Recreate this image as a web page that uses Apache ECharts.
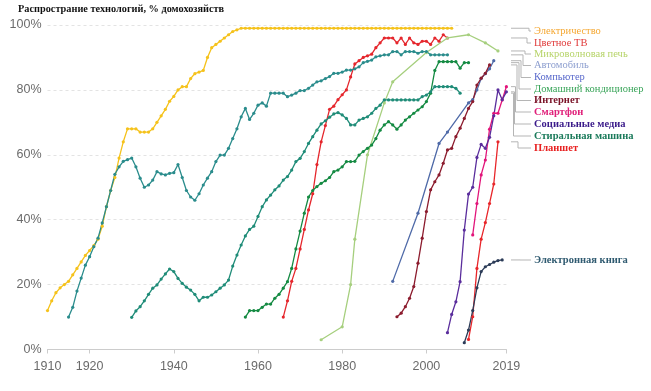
<!DOCTYPE html>
<html><head><meta charset="utf-8">
<script src="https://cdn.jsdelivr.net/npm/echarts@6/dist/echarts.min.js"></script>
<style>html,body{margin:0;padding:0;background:#fff}#c{width:651px;height:391px}</style>
</head><body><div id="c"></div>
<script>
const xTicks = [1910, 1920, 1940, 1960, 1980, 2000, 2019];
const yTicks = [0, 20, 40, 60, 80, 100];

const electricity = [[1910,12],[1911,15],[1912,17.5],[1913,19],[1914,20],[1915,21],[1916,23],[1917,25],[1918,27],[1919,29],[1920,30.5],[1921,32],[1922,34],[1923,38],[1924,44],[1925,49],[1926,53],[1927,59],[1928,64],[1929,68],[1930,68],[1931,68],[1932,67],[1933,67],[1934,67],[1935,68],[1936,70],[1937,72],[1938,74],[1939,76.5],[1940,78],[1941,80],[1942,81],[1943,81],[1944,83.5],[1945,85],[1946,85.5],[1947,86],[1948,90],[1949,93],[1950,94],[1951,95],[1952,96],[1953,97],[1954,98],[1955,98.5],[1956,99],[1957,99],[1958,99],[1959,99],[1960,99],[1961,99],[1962,99],[1963,99],[1964,99],[1965,99],[1966,99],[1967,99],[1968,99],[1969,99],[1970,99],[1971,99],[1972,99],[1973,99],[1974,99],[1975,99],[1976,99],[1977,99],[1978,99],[1979,99],[1980,99],[1981,99],[1982,99],[1983,99],[1984,99],[1985,99],[1986,99],[1987,99],[1988,99],[1989,99],[1990,99],[1991,99],[1992,99],[1993,99],[1994,99],[1995,99],[1996,99],[1997,99],[1998,99],[1999,99],[2000,99],[2001,99],[2002,99],[2003,99],[2004,99],[2005,99],[2006,99]];
const colorTv = [[1966,10],[1967,15],[1968,21],[1969,25],[1970,31],[1971,37],[1972,43],[1973,48],[1974,57],[1975,64],[1976,69],[1977,74],[1978,75],[1979,77],[1980,78.5],[1981,80],[1982,84],[1983,88],[1984,89],[1985,90],[1986,90.5],[1987,91],[1988,93],[1989,94.5],[1990,96],[1991,96],[1992,96],[1993,94.5],[1994,96],[1995,94],[1996,96],[1997,94.5],[1998,94],[1999,95],[2000,95],[2001,94],[2002,96],[2003,95],[2004,97],[2005,96]];
const microwave = [[1975,3],[1980,7],[1982,20],[1983,34],[1986,60],[1990,76],[1992,82.5],[2000,91.5],[2005,96],[2010,97],[2014,94.5],[2017,92]];
const car = [[1915,10],[1916,13],[1917,18],[1918,22],[1919,26],[1920,28.6],[1921,31.7],[1922,34.3],[1923,39],[1924,44],[1925,49],[1926,54],[1927,56.3],[1928,58],[1929,58.5],[1930,59],[1931,56.3],[1932,52.8],[1933,50],[1934,50.7],[1935,52.2],[1936,54.8],[1937,54.1],[1938,53.8],[1939,54.3],[1940,54.5],[1941,57],[1942,53],[1943,49],[1944,47],[1945,46],[1946,48],[1947,50.7],[1948,52.8],[1949,54.8],[1950,57.9],[1951,59.9],[1952,59.9],[1953,62],[1954,65],[1955,68],[1956,71.7],[1957,74.3],[1958,70.9],[1959,72.8],[1960,75.3],[1961,76],[1962,75],[1963,79],[1964,79],[1965,79],[1966,79],[1967,77.9],[1968,78.4],[1969,79],[1970,79.8],[1971,79.8],[1972,80.5],[1973,81.5],[1974,82.5],[1975,82.8],[1976,83.5],[1977,84.1],[1978,85.1],[1979,85.1],[1980,85.5],[1981,86.1],[1982,86.1],[1983,86.5],[1984,87.1],[1985,88.4],[1986,88.8],[1987,89.2],[1988,90.2],[1989,90.5],[1990,90.8],[1991,90.8],[1992,91.8],[1993,91.8],[1994,90.8],[1995,91.8],[1996,91.8],[1997,91.8],[1998,91.3],[1999,91.8],[2000,91.8],[2001,90.8],[2002,90.8],[2003,90.8],[2004,90.8],[2005,90.8]];
const computer = [[1992,21],[1998,42],[2003,63.5],[2005,67],[2010,76],[2011,77],[2012,80],[2013,83.5],[2014,85],[2015,86.5],[2016,89]];
const airCond = [[1957,10],[1958,12],[1959,12],[1960,12],[1961,13],[1962,14],[1963,14],[1964,15.8],[1965,17],[1966,18.9],[1967,20.9],[1968,25],[1969,31],[1970,36.5],[1971,42],[1972,47],[1973,49],[1974,50.2],[1975,51.2],[1976,52],[1977,53],[1978,54.8],[1979,55.3],[1980,56.3],[1981,57.9],[1982,57.9],[1983,58],[1984,59.9],[1985,61],[1986,62],[1987,63],[1988,65],[1989,67.6],[1990,69.2],[1991,70.2],[1992,69.2],[1993,67.9],[1994,69.2],[1995,70.7],[1996,71.7],[1997,72.8],[1998,73.8],[1999,74.8],[2000,76.4],[2001,79],[2002,86],[2003,88.7],[2004,88.7],[2005,88.7],[2006,88.7],[2007,88.7],[2008,86.7],[2009,88.4],[2010,88.4]];
const internet = [[1993,10.1],[1994,11.2],[1995,13.2],[1996,15.8],[1997,19.4],[1998,26.6],[1999,34.3],[2000,42.5],[2001,49.2],[2002,51.7],[2003,53.8],[2004,57.4],[2005,61.5],[2006,62],[2007,65.6],[2008,68.2],[2009,71.2],[2010,74.3],[2011,76.4],[2012,81.5],[2013,83.6],[2014,85.1],[2015,87.7]];
const smartphone = [[2011,35.3],[2012,45],[2013,53.8],[2014,58.4],[2015,67.9],[2016,72.8],[2017,72.8],[2018,76.9],[2019,81]];
const socialMedia = [[2005,5.2],[2006,10.8],[2007,14.7],[2008,20.9],[2009,36.8],[2010,47.9],[2011,50],[2012,59.2],[2013,63.2],[2014,62],[2015,65.4],[2016,72],[2017,80],[2018,77],[2019,79.4]];
const washer = [[1930,9.9],[1931,11.9],[1932,13.2],[1933,15],[1934,17],[1935,18.9],[1936,19.9],[1937,21.7],[1938,23.3],[1939,24.8],[1940,24],[1941,21.9],[1942,20.4],[1943,19.2],[1944,18.3],[1945,17],[1946,15],[1947,16.1],[1948,16.1],[1949,16.8],[1950,17.8],[1951,18.9],[1952,19.9],[1953,21.4],[1954,25.7],[1955,29.1],[1956,32.2],[1957,35],[1958,37],[1959,38],[1960,41],[1961,44],[1962,46.1],[1963,47.6],[1964,49.2],[1965,50.4],[1966,52.2],[1967,53.3],[1968,55.3],[1969,57.9],[1970,58.9],[1971,61],[1972,63.5],[1973,65.6],[1974,67.6],[1975,69.5],[1976,70.5],[1977,71.6],[1978,72.6],[1979,73],[1980,72.3],[1981,71.2],[1982,69.2],[1983,69.2],[1984,70.7],[1985,71.2],[1986,71.7],[1987,72.8],[1988,74.3],[1989,75.3],[1990,76.9],[1991,76.9],[1992,76.9],[1993,76.9],[1994,76.9],[1995,76.9],[1996,76.9],[1997,76.9],[1998,76.9],[1999,77.9],[2000,78.4],[2001,79.4],[2002,81],[2003,81],[2004,81],[2005,81],[2006,81],[2007,80.5],[2008,79]];
const tablet = [[2010,3.1],[2011,10.1],[2012,25],[2013,34],[2014,39.1],[2015,45],[2016,51],[2017,64]];
const ebook = [[2009,2.1],[2010,6],[2011,12],[2012,19],[2013,24],[2014,25.5],[2015,26.2],[2016,26.9],[2017,27.4],[2018,27.6]];

const seriesNames = ['Электричество','Цветное ТВ','Микроволновая печь','Автомобиль','Компьютер','Домашний кондиционер','Интернет','Смартфон','Социальные медиа','Стиральная машина','Планшет','Электронная книга'];
const seriesData = [electricity, colorTv, microwave, car, computer, airCond, internet, smartphone, socialMedia, washer, tablet, ebook];
const lineColors = ['#f5c21b','#e5262c','#a6cf7e','#2a8c8c','#4f6aa8','#148a42','#8c1c2e','#e2157a','#5a2d9c','#1f8c78','#e8262a','#2c3c58'];
const labelColors = ['#f5a833','#e03a3a','#b7d46a','#8fa0d0','#5a6acc','#3aa55a','#7a1428','#e0207a','#3a1a8a','#1a7a5a','#e82020','#2f5a70'];
const labelBold = [false,false,false,false,false,false,true,true,true,true,true,true];
const labelY = [31, 43, 54, 65.5, 77.5, 89, 100.5, 112, 124, 136, 148, 260];
const leaderX = [529, 527, 525, 523, 521, 519, 517, 515.5, 514.5, 513.5, 518, 520];

const chart = echarts.init(document.getElementById('c'), null, {renderer: 'canvas'});
const option = {
  animation: false,
  grid: {left: 47.5, right: 144.6, top: 25, bottom: 41.5},
  title: {text: 'Распространие технологий, % домохозяйств', left: 13, top: -1,
    textStyle: {fontFamily: 'Liberation Serif', fontWeight: 'bold', fontSize: 10.3, color: '#111'}},
  xAxis: {type: 'value', min: 1910, max: 2019,
    axisLine: {lineStyle: {color: '#cccccc'}},
    axisTick: {show: true, customValues: xTicks, length: 4, lineStyle: {color: '#cccccc'}},
    axisLabel: {customValues: xTicks, formatter: v => String(v), color: '#6b6b6b', fontSize: 12.5, margin: 11, fontFamily: 'Liberation Sans'},
    splitLine: {show: false}},
  yAxis: {type: 'value', min: 0, max: 100, interval: 20,
    axisLine: {show: false}, axisTick: {show: false},
    axisLabel: {formatter: '{value}%', color: '#6b6b6b', fontSize: 12.5, margin: 6, fontFamily: 'Liberation Sans'},
    splitLine: {lineStyle: {color: '#e3e3e3', type: [3, 3], width: 1}}},
  series: seriesData.map((d, i) => ({
    name: seriesNames[i], type: 'line', data: d,
    symbol: 'circle', symbolSize: 3.2, showSymbol: true,
    lineStyle: {color: lineColors[i], width: 1.3},
    itemStyle: {color: lineColors[i]},
    z: 2
  }))
};
chart.setOption(option);

const graphics = [];
seriesData.forEach((d, i) => {
  const last = d[d.length - 1];
  const p = chart.convertToPixel({gridIndex: 0}, last);
  const ye = p[1], yl = labelY[i], xv = leaderX[i];
  graphics.push({type: 'polyline', silent: true,
    shape: {points: [[511, ye], [xv, ye], [xv, yl], [531, yl]]},
    style: {stroke: '#b5b5b5', lineWidth: 1, fill: null}});
  graphics.push({type: 'text', x: 534, y: yl, silent: true,
    style: {text: seriesNames[i], fill: labelColors[i], fontFamily: 'Liberation Serif',
      fontSize: 10.5, fontWeight: labelBold[i] ? 'bold' : 'normal', verticalAlign: 'middle', align: 'left'}});
});
chart.setOption({graphic: graphics});
</script></body></html>
